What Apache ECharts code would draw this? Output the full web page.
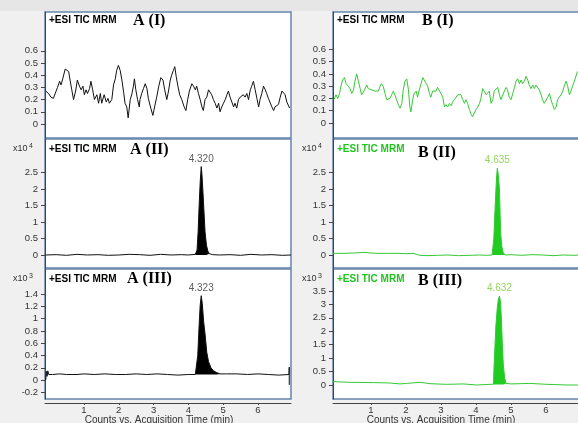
<!DOCTYPE html>
<html><head><meta charset="utf-8">
<script src="https://cdn.jsdelivr.net/npm/echarts@6/dist/echarts.min.js"></script>
<style>html,body{margin:0;padding:0;background:#f0f0f0}#c{width:578px;height:423px}</style>
</head><body><div id="c"></div>
<script>
// ---------- DATA ----------
const aTimeI = [-0.10,-0.02,0.05,0.12,0.17,0.24,0.30,0.34,0.39,0.46,0.51,0.56,0.60,0.65,0.70,0.76,0.81,0.87,0.92,0.97,1.01,1.06,1.10,1.16,1.20,1.25,1.30,1.37,1.42,1.47,1.51,1.58,1.64,1.69,1.73,1.80,1.85,1.90,1.94,1.99,2.04,2.09,2.14,2.18,2.23,2.27,2.33,2.38,2.42,2.45,2.49,2.54,2.59,2.61,2.66,2.71,2.76,2.81,2.85,2.92,2.98,3.03,3.09,3.15,3.21,3.27,3.32,3.38,3.43,3.48,3.52,3.57,3.61,3.65,3.70,3.75,3.81,3.88,3.93,3.98,4.03,4.10,4.15,4.20,4.24,4.29,4.34,4.39,4.43,4.48,4.53,4.58,4.63,4.67,4.72,4.77,4.82,4.87,4.91,4.96,5.01,5.06,5.11,5.15,5.20,5.25,5.30,5.34,5.39,5.44,5.49,5.54,5.58,5.63,5.68,5.73,5.78,5.82,5.87,5.92,5.97,6.02,6.06,6.11,6.16,6.21,6.25,6.30,6.35,6.40,6.45,6.49,6.54,6.59,6.64,6.69,6.73,6.78,6.83,6.91];
const aValI = [0.27,0.25,0.22,0.21,0.20,0.30,0.35,0.32,0.37,0.45,0.44,0.43,0.36,0.28,0.20,0.27,0.36,0.31,0.28,0.31,0.24,0.28,0.25,0.29,0.35,0.28,0.20,0.24,0.17,0.25,0.17,0.24,0.18,0.21,0.17,0.20,0.32,0.37,0.44,0.48,0.44,0.36,0.26,0.17,0.14,0.05,0.20,0.25,0.31,0.37,0.28,0.20,0.14,0.20,0.25,0.29,0.33,0.29,0.21,0.13,0.07,0.14,0.22,0.31,0.38,0.36,0.28,0.20,0.27,0.36,0.40,0.44,0.47,0.39,0.31,0.24,0.20,0.14,0.11,0.20,0.27,0.33,0.31,0.28,0.31,0.25,0.20,0.14,0.11,0.20,0.22,0.28,0.29,0.24,0.20,0.17,0.13,0.17,0.10,0.14,0.17,0.20,0.24,0.27,0.22,0.18,0.14,0.17,0.13,0.20,0.22,0.21,0.24,0.22,0.25,0.20,0.28,0.31,0.35,0.28,0.21,0.14,0.20,0.25,0.31,0.28,0.25,0.21,0.20,0.14,0.11,0.14,0.13,0.16,0.22,0.27,0.28,0.24,0.18,0.13];

const bTimeI = [-0.06,0,0.05,0.10,0.14,0.19,0.24,0.29,0.35,0.40,0.45,0.50,0.54,0.59,0.64,0.69,0.73,0.78,0.83,0.88,0.92,0.97,1.02,1.07,1.11,1.16,1.21,1.26,1.30,1.35,1.40,1.45,1.50,1.54,1.59,1.64,1.69,1.73,1.78,1.83,1.88,1.92,1.97,2.02,2.07,2.11,2.14,2.19,2.23,2.29,2.33,2.38,2.43,2.48,2.52,2.57,2.62,2.67,2.71,2.76,2.81,2.86,2.90,2.95,3.00,3.05,3.10,3.14,3.19,3.24,3.29,3.33,3.38,3.43,3.48,3.52,3.57,3.62,3.67,3.71,3.76,3.81,3.86,3.90,3.95,4.00,4.05,4.10,4.14,4.19,4.24,4.29,4.33,4.38,4.43,4.48,4.52,4.57,4.62,4.67,4.71,4.76,4.81,4.86,4.90,4.95,5.00,5.05,5.10,5.14,5.19,5.24,5.29,5.33,5.38,5.43,5.48,5.52,5.57,5.62,5.67,5.71,5.76,5.81,5.86,5.90,5.95,6.00,6.05,6.10,6.14,6.19,6.24,6.29,6.33,6.38,6.43,6.48,6.52,6.57,6.62,6.67,6.71,6.76,6.81,6.86,6.90];
const bValI = [0.19,0.23,0.20,0.24,0.30,0.35,0.37,0.32,0.30,0.28,0.24,0.27,0.34,0.40,0.34,0.28,0.23,0.25,0.24,0.31,0.28,0.28,0.27,0.27,0.26,0.27,0.26,0.30,0.32,0.30,0.24,0.19,0.18,0.20,0.23,0.26,0.26,0.19,0.15,0.12,0.16,0.27,0.34,0.36,0.27,0.13,0.09,0.19,0.24,0.26,0.21,0.27,0.32,0.37,0.35,0.34,0.30,0.24,0.21,0.26,0.27,0.26,0.29,0.29,0.24,0.21,0.13,0.15,0.13,0.16,0.14,0.17,0.19,0.21,0.23,0.24,0.23,0.19,0.16,0.19,0.16,0.11,0.07,0.05,0.08,0.11,0.13,0.16,0.20,0.28,0.27,0.23,0.24,0.26,0.16,0.19,0.26,0.27,0.29,0.23,0.19,0.20,0.26,0.29,0.27,0.21,0.19,0.24,0.29,0.34,0.36,0.32,0.35,0.32,0.34,0.38,0.35,0.31,0.28,0.31,0.28,0.31,0.30,0.27,0.23,0.19,0.16,0.17,0.21,0.24,0.19,0.15,0.11,0.13,0.19,0.21,0.23,0.26,0.30,0.34,0.30,0.23,0.26,0.30,0.34,0.35,0.42];

// x10^4 counts
const aTimeII = [-0.1,0.2,0.5,0.8,1.1,1.4,1.7,2.0,2.3,2.6,2.9,3.2,3.5,3.8,4.0,4.2,4.25,4.28,4.31,4.34,4.37,4.39,4.42,4.45,4.48,4.52,4.56,4.6,4.7,4.9,5.2,5.5,5.8,6.1,6.4,6.7,6.95];
const aValII  = [0,0.01,-0.01,0.02,0,0.01,-0.01,0,0.02,0.01,-0.01,0.02,0,0.01,0,0.02,0.15,0.7,1.5,2.2,2.68,2.45,1.9,1.3,0.7,0.3,0.12,0.04,0.01,0,0.01,-0.01,0.02,0,0.01,-0.01,0];
const bTimeII = [-0.1,0.2,0.5,0.8,1.0,1.2,1.5,1.8,2.0,2.2,2.3,2.4,2.6,2.9,3.2,3.5,3.8,4.1,4.3,4.46,4.48,4.51,4.54,4.57,4.59,4.61,4.64,4.67,4.69,4.71,4.74,4.78,4.85,5.0,5.3,5.6,5.9,6.2,6.5,6.8,7.0];
const bValII  = [0.05,0.05,0.06,0.08,0.06,0.05,0.05,0.05,0.04,0.05,0.02,-0.01,-0.02,-0.01,0,-0.02,-0.01,0,-0.01,0,0.05,0.5,1.3,2.0,2.4,2.63,2.4,2.0,1.2,0.6,0.25,0.05,0,0.01,-0.01,0.01,0,-0.02,0,-0.01,0];

// x10^3 counts
const aTimeIII = [-0.1,-0.08,-0.06,-0.04,-0.01,0.1,0.3,0.5,0.8,1.0,1.3,1.6,1.9,2.2,2.5,2.8,3.1,3.4,3.7,4.0,4.2,4.24,4.27,4.31,4.34,4.37,4.40,4.44,4.48,4.53,4.58,4.65,4.72,4.82,4.91,5.1,5.4,5.7,6.0,6.3,6.6,6.89,6.9,6.9];
const aValIII  = [0.0,0.14,0.06,0.15,0.09,0.09,0.1,0.09,0.09,0.1,0.09,0.1,0.09,0.09,0.1,0.09,0.1,0.09,0.08,0.09,0.09,0.09,0.4,0.9,1.22,1.376,1.25,0.95,0.75,0.45,0.3,0.2,0.15,0.12,0.1,0.1,0.1,0.09,0.1,0.09,0.08,0.09,0.21,-0.08];
const bTimeIII = [-0.1,0.4,1.07,1.54,1.83,2.02,2.4,2.69,3.16,3.64,4.02,4.4,4.5,4.51,4.54,4.57,4.61,4.64,4.67,4.70,4.72,4.75,4.78,4.82,4.86,5.0,5.54,6.02,6.6,7.0];
const bValIII  = [0.125,0.1,0.09,0.075,0.04,0.06,0.1,0.05,0.025,0.04,0.0,0.025,0.03,0.5,1.4,2.25,2.9,3.2,3.31,3.1,2.6,1.6,0.75,0.25,0.06,0.04,0.06,0.025,0,0];

const peakRanges = [null, [4.2,4.6], [4.2,4.95], null, [4.46,4.85], [4.5,4.86]];
const peakBase   = [0, 0, 0.09, 0, 0, 0.02];
const peakLabels = [null, '4.320', '4.323', null, '4.635', '4.632'];

const yTicksI   = [0,0.1,0.2,0.3,0.4,0.5,0.6];
const yTicksII  = [0,0.5,1,1.5,2,2.5];
const aTicksIII = [-0.2,0,0.2,0.4,0.6,0.8,1,1.2,1.4];
const bTicksIII = [0,0.5,1,1.5,2,2.5,3,3.5];
const xTicks    = [1,2,3,4,5,6];

const esiText = '+ESI TIC MRM';
const panelNames = ['A (I)','A (II)','A (III)','B (I)','B (II)','B (III)'];
const scaleTexts = [null, ['x10','4'], ['x10','3'], null, ['x10','4'], ['x10','3']];
const xAxisTitle = 'Counts vs. Acquisition Time (min)';

// ---------- LAYOUT ----------
const SANS = '"Liberation Sans", Arial, sans-serif';
const SERIF = '"Liberation Serif", "Times New Roman", serif';
const BLACK = '#111111', GREEN = '#35c935', GREEN_FILL = '#1fcc1f', GREEN_TXT = '#22c422', GREEN_LBL = '#7cc932';

const colLeft = [45, 333], colWidth = [246, 248];
const colX = [[-0.12, 6.95], [-0.086, 7.0]];
const rowTop = [12, 139, 269], rowHeight = [126, 129, 130];

const panels = [
  {t:aTimeI,  v:aValI,  col:0,row:0, y:[-0.115,0.918], ticks:yTicksI},
  {t:aTimeII, v:aValII, col:0,row:1, y:[-0.394,3.515], ticks:yTicksII},
  {t:aTimeIII,v:aValIII,col:0,row:2, y:[-0.31,1.812],  ticks:aTicksIII},
  {t:bTimeI,  v:bValI,  col:1,row:0, y:[-0.122,0.904], ticks:yTicksI},
  {t:bTimeII, v:bValII, col:1,row:1, y:[-0.394,3.515], ticks:yTicksII},
  {t:bTimeIII,v:bValIII,col:1,row:2, y:[-0.521,4.319], ticks:bTicksIII}
];

const fmt = v => String(parseFloat(Number(v).toFixed(2)));

const grid = [], xAxis = [], yAxis = [], series = [], graphic = [];

graphic.push({type:'rect', shape:{x:0,y:0,width:578,height:11}, style:{fill:'#e6e6e6'}, z:-10, silent:true});

panels.forEach((p, i) => {
  const isB = p.col === 1;
  const lineCol = isB ? GREEN : BLACK;
  grid.push({left: colLeft[p.col], top: rowTop[p.row], width: colWidth[p.col], height: rowHeight[p.row],
    show:true, backgroundColor:'#ffffff', borderColor:'#6585ad', borderWidth:1.5, containLabel:false, outerBoundsMode:'none'});
  const bottom = p.row === 2;
  xAxis.push({type:'value', gridIndex:i, min:colX[p.col][0], max:colX[p.col][1], show: bottom,
    position:'bottom', offset: 4, splitLine:{show:false},
    axisLine:{show:true, onZero:false, lineStyle:{color:'#444', width:1}},
    axisTick:{show:true, customValues:xTicks, length:2, lineStyle:{color:'#444'}},
    axisLabel:{customValues:xTicks, formatter:fmt, fontSize:9.5, color:'#333', margin:2, fontFamily:SANS}});
  yAxis.push({type:'value', gridIndex:i, min:p.y[0], max:p.y[1], splitLine:{show:false},
    axisLine:{show:true, onZero:false, lineStyle:{color:'#3b4552', width:1}},
    axisTick:{show:true, customValues:p.ticks, length:4, lineStyle:{color:'#444'}},
    axisLabel:{customValues:p.ticks, formatter:fmt, fontSize:9.5, color:'#333', margin:7, fontFamily:SANS}});

  const data = p.t.map((x, k) => [x, p.v[k]]);
  if (peakRanges[i]) {
    const r = peakRanges[i];
    series.push({type:'line', xAxisIndex:i, yAxisIndex:i, data: data.filter(d => d[0] >= r[0] && d[0] <= r[1]),
      symbol:'none', silent:true, animation:false, lineStyle:{width:0},
      areaStyle:{color: isB ? GREEN_FILL : '#000000', opacity:1, origin: peakBase[i]}, z:2});
  }
  series.push({type:'line', xAxisIndex:i, yAxisIndex:i, data, symbol:'none', showSymbol:false,
    silent:true, animation:false, lineStyle:{color:lineCol, width:1}, z:3});
  if (peakLabels[i]) {
    let m = 0; p.v.forEach((v,k) => { if (v > p.v[m]) m = k; });
    series.push({type:'scatter', xAxisIndex:i, yAxisIndex:i, data:[[p.t[m], p.v[m]]], symbolSize:1,
      itemStyle:{color:'rgba(0,0,0,0)'}, silent:true, animation:false, z:5,
      label:{show:true, position:'top', distance:2, formatter: peakLabels[i], fontSize:10,
        color: isB ? GREEN_LBL : '#333', fontFamily:SANS}});
  }

  // headings
  const hx = colLeft[p.col] + 4;
  const hy = rowTop[p.row] + (p.row === 0 ? 8 : 10);
  const esiCol = (isB && p.row > 0) ? GREEN_TXT : '#000';
  graphic.push({type:'text', x:hx, y:hy, silent:true, z:50,
    style:{text:esiText, font:'bold 10px ' + SANS, fill:esiCol, textAlign:'left', textVerticalAlign:'middle'}});
  const nameX = [[133,130,127],[422,418,418]][p.col][p.row];
  const nameY = [[21,150,279],[21,153,281]][p.col][p.row];
  graphic.push({type:'text', x:nameX, y:nameY, silent:true, z:50,
    style:{text:panelNames[i], font:'bold 16px ' + SERIF, fill:'#000', textAlign:'left', textVerticalAlign:'middle'}});
  if (scaleTexts[i]) {
    const sx = isB ? 302 : 13;
    const sy = rowTop[p.row] + 10;
    graphic.push({type:'text', x:sx, y:sy, silent:true, z:50,
      style:{text:scaleTexts[i][0], font:'9px ' + SANS, fill:'#333', textAlign:'left', textVerticalAlign:'middle'}});
    graphic.push({type:'text', x:sx + 16, y:sy - 3, silent:true, z:50,
      style:{text:scaleTexts[i][1], font:'7px ' + SANS, fill:'#333', textAlign:'left', textVerticalAlign:'middle'}});
  }
});

graphic.push({type:'text', x:159, y:415, silent:true, z:50,
  style:{text:xAxisTitle, font:'10px ' + SANS, fill:'#333', textAlign:'center', textVerticalAlign:'top'}});
graphic.push({type:'text', x:441, y:415, silent:true, z:50,
  style:{text:xAxisTitle, font:'10px ' + SANS, fill:'#333', textAlign:'center', textVerticalAlign:'top'}});

const chart = echarts.init(document.getElementById('c'), null, {renderer:'canvas'});
chart.setOption({backgroundColor:'#f0f0f0', animation:false, grid, xAxis, yAxis, series, graphic});
</script></body></html>
